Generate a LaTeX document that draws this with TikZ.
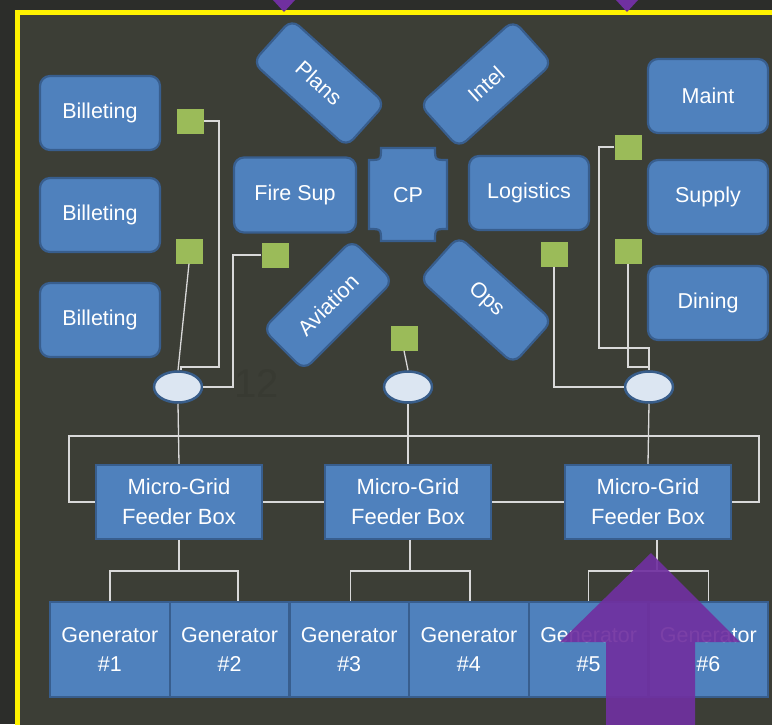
\documentclass[tikz,border=0pt]{standalone}
\usepackage{fontspec}
\setmainfont{Liberation Sans}
\usetikzlibrary{shapes.geometric}
\definecolor{outerbg}{HTML}{2C2D2A}
\definecolor{panel}{HTML}{3C3E36}
\definecolor{boxblue}{HTML}{4F81BD}
\definecolor{boxedge}{HTML}{385E8E}
\definecolor{grn}{HTML}{9BBB59}
\definecolor{ellfill}{HTML}{DCE6F2}
\definecolor{elledge}{HTML}{385D8A}
\definecolor{wirecol}{HTML}{D9D9D9}
\definecolor{purp}{HTML}{7030A0}
\definecolor{ghost}{HTML}{383A32}
\begin{document}
\begin{tikzpicture}[x=1pt,y=-1pt,
  txt/.style={text=white, font=\fontsize{21.5}{25}\selectfont, align=center, inner sep=0pt},
  rbox/.style={txt, draw=boxedge, line width=2.2pt, fill=boxblue, rounded corners=10pt,
               minimum width=120pt, minimum height=74pt},
  tiltbox/.style={rbox, minimum width=126pt, minimum height=58pt},
  fbox/.style={txt, font=\fontsize{22}{30}\selectfont, draw=boxedge, line width=2.2pt, fill=boxblue,
               minimum width=166pt, minimum height=74pt},
  genbox/.style={txt, font=\fontsize{21.5}{29}\selectfont, draw=boxedge, line width=2.2pt, fill=boxblue,
               minimum width=119.7pt, minimum height=95pt},
  gsq/.style={fill=grn, minimum width=27pt, minimum height=25pt, inner sep=0pt},
  tap/.style={ellipse, draw=elledge, line width=2.5pt, fill=ellfill, minimum width=48pt, minimum height=31pt, inner sep=0pt},
  wire/.style={draw=wirecol, line width=1.3pt}
]
\useasboundingbox (0,0) rectangle (772,724);
\clip (0,0) rectangle (772,724);
\fill[outerbg] (0,0) rectangle (772,724);
\fill[panel] (17.5,12.5) rectangle (790,740);
\draw[yellow, line width=4.5pt] (17.5,12.5) rectangle (790,740);
\fill[purp] (273,0) -- (295,0) -- (284,12) -- cycle;
\fill[purp] (616,0) -- (638,0) -- (627,12) -- cycle;

\node[text=ghost, font=\fontsize{40}{40}\selectfont, inner sep=0pt] (n12) at (257,384) {12};

% left column
\node[rbox] (bil1) at (100,113) {Billeting};
\node[rbox] (bil2) at (100,215) {Billeting};
\node[rbox] (bil3) at (100,320) {Billeting};
% right column
\node[rbox] (maint) at (708,96) {Maint};
\node[rbox] (supply) at (708,197) {Supply};
\node[rbox] (dining) at (708,303) {Dining};
% centre
\node[rbox, minimum width=122pt, minimum height=75pt] (fire) at (295,195) {Fire Sup};
\node[rbox] (logi) at (529,193) {Logistics};
\draw[draw=boxedge, line width=2.2pt, fill=boxblue]
  (381,148) -- (435,148) .. controls (435,160) .. (447,160) -- (447,229)
  .. controls (435,229) .. (435,241) -- (381,241) .. controls (381,229) .. (369,229)
  -- (369,160) .. controls (381,160) .. (381,148) -- cycle;
\node[txt] (cp) at (408,195) {CP};
\node[tiltbox, rotate=-42] (plans) at (319,83) {Plans};
\node[tiltbox, rotate=42] (intel) at (486,84) {Intel};
\node[tiltbox, rotate=45] (avia) at (328,305) {Aviation};
\node[tiltbox, rotate=-42] (ops) at (486,300) {Ops};

% green squares
\node[gsq] (g1) at (190,121) {};
\node[gsq] (g2) at (189,251) {};
\node[gsq] (g3) at (275,255) {};
\node[gsq] (g4) at (404,338) {};
\node[gsq] (g5) at (554,254) {};
\node[gsq] (g6) at (628,147) {};
\node[gsq] (g7) at (628,251) {};

% taps
\node[tap] (e1) at (178,387) {};
\node[tap] (e2) at (408,387) {};
\node[tap] (e3) at (649,387) {};

% feeder boxes
\node[fbox] (f1) at (179,502) {Micro-Grid\\Feeder Box};
\node[fbox] (f2) at (408,502) {Micro-Grid\\Feeder Box};
\node[fbox] (f3) at (648,502) {Micro-Grid\\Feeder Box};

% generators
\node[genbox] (gen1) at (109.85,649.5) {Generator\\\#1};
\node[genbox] (gen2) at (229.55,649.5) {Generator\\\#2};
\node[genbox] (gen3) at (349.25,649.5) {Generator\\\#3};
\node[genbox] (gen4) at (468.95,649.5) {Generator\\\#4};
\node[genbox] (gen5) at (588.65,649.5) {Generator\\\#5};
\node[genbox] (gen6) at (708.35,649.5) {Generator\\\#6};

% wiring to taps
\coordinate (k1) at (219,367);
\draw[wire] (g1.east) -| (k1) -| ([xshift=3pt]e1.north);
\draw[wire] (g2.south) -- (e1.north);
\coordinate (k3) at (233,387);
\draw[wire] (g3.west) -| (k3) -- (e1.east);
\draw[wire] (g4.south) -- (e2.north);
\draw[wire] (g5.south) |- (e3.west);
\coordinate (k6) at (599,348);
\draw[wire] (g6.west) -| (k6) -| (e3.north);
\coordinate (k7) at (649,367);
\draw[wire] (g7.south) |- (k7);

% taps to feeders
\draw[wire] (e1.south) -- (f1.north);
\draw[wire] (e2.south) -- (f2.north);
\draw[wire] (e3.south) -- (f3.north);

% bus
\coordinate (bl) at (69,436);
\coordinate (br) at (759,436);
\draw[wire] (f1.west) -| (bl) -- (br) |- (f3.east);
\draw[wire] (f1.east) -- (f2.west);
\draw[wire] (f2.east) -- (f3.west);

% feeders to generators
\coordinate (t1) at (179,571);
\coordinate (t2) at (410,571);
\coordinate (t3) at (657,571);
\draw[wire] (f1.south) -- (t1);
\draw[wire] (gen1.north) |- ([xshift=8.5pt]gen2.north |- t1) -- ([xshift=8.5pt]gen2.north);
\draw[wire] (f2.south -| t2) -- (t2);
\draw[wire] ([xshift=1.5pt]gen3.north) |- ([xshift=1pt]gen4.north |- t2) -- ([xshift=1pt]gen4.north);
\draw[wire] (f3.south -| t3) -- (t3);
\draw[wire] (gen5.north) |- (gen6.north |- t3) -- (gen6.north);

% big arrow
\fill[purp, opacity=0.92] (651,553) -- (740,642) -- (695,642) -- (695,730) -- (606,730) -- (606,642) -- (560,642) -- cycle;
\end{tikzpicture}
\end{document}
